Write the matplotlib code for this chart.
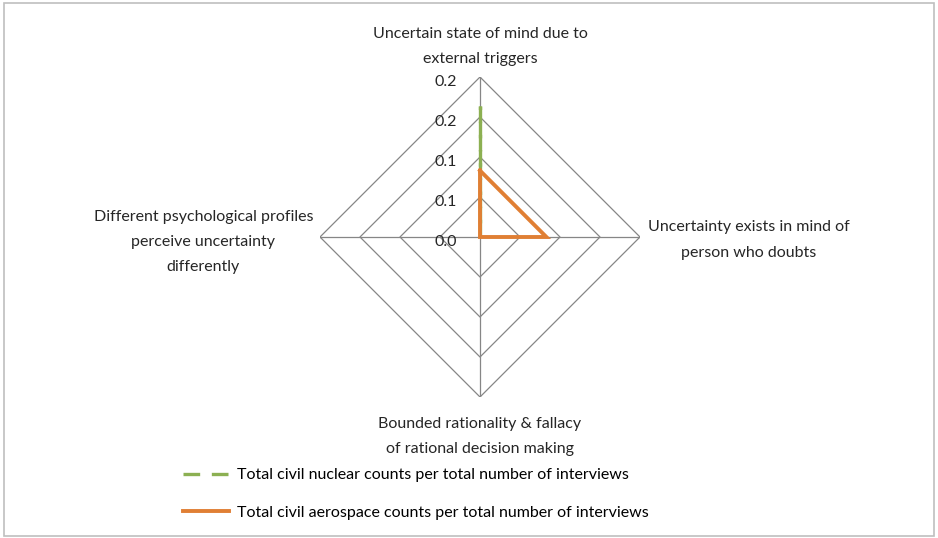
import numpy as np
import matplotlib.pyplot as plt
from matplotlib.patches import Rectangle

plt.rcParams['font.family'] = ['Lato', 'DejaVu Sans']

# data
categories = [
    'Uncertain state of mind due to\nexternal triggers',
    'Uncertainty exists in mind of\nperson who doubts',
    'Bounded rationality & fallacy\nof rational decision making',
    'Different psychological profiles\nperceive uncertainty\ndifferently',
]
nuclear = [0.164, 0.0, 0.0, 0.0]
aerospace = [0.083, 0.083, 0.0, 0.0]
ring_levels = [0.0, 0.05, 0.10, 0.15, 0.20]
ring_labels = ['0.0', '0.1', '0.1', '0.2', '0.2']
series_names = ['Total civil nuclear counts per total number of interviews',
                'Total civil aerospace counts per total number of interviews']

GRID = '#868686'
GREEN = '#8CB052'
ORANGE = '#E07F34'
TXT = '#262626'
FS = 11.5
LS = 2.0

fig = plt.figure(figsize=(9.38, 5.38), dpi=100)
fig.patches.append(Rectangle((0.004, 0.004), 0.992, 0.99, transform=fig.transFigure,
                             fill=False, edgecolor='#BFBFBF', linewidth=1.2))

W, H = 938, 538
cx, cy, R = 480, 237, 160
ax = fig.add_axes([(cx - R) / W, (H - cy - R) / H, 2 * R / W, 2 * R / H], projection='polar')
ax.set_theta_offset(np.pi / 2)
ax.set_theta_direction(-1)
ax.set_ylim(0, 0.2)
ax.axis('off')

n = len(categories)
angles = np.arange(n) * 2 * np.pi / n
closed = np.append(angles, angles[0])

# polygon rings
for lvl in ring_levels[1:]:
    ax.plot(closed, [lvl] * (n + 1), color=GRID, lw=0.9, zorder=1)
# spokes
for a in angles:
    ax.plot([a, a], [0, ring_levels[-1]], color=GRID, lw=0.9, zorder=1)

# dashed series drawn edge by edge; the closing edge gets a shifted dash phase
# so the overlapping up/down strokes fill each other's gaps (as in the original)
nuc = nuclear + nuclear[:1]
handles = []
for i in range(n):
    phase = 4.25 if i == n - 1 else 0
    l, = ax.plot(closed[i:i + 2], nuc[i:i + 2], color=GREEN, lw=2.4,
                 linestyle=(phase, (5, 3.5)), zorder=3)
    if i == 0:
        l.set_label(series_names[0])
        handles.append(l)
l2, = ax.plot(closed, aerospace + aerospace[:1], color=ORANGE, lw=2.8,
              zorder=4, label=series_names[1], solid_joinstyle='miter')
handles.append(l2)

# radial tick labels
for lvl, lab in zip(ring_levels, ring_labels):
    ax.annotate(lab, xy=(0, lvl), xytext=(-23, -5), textcoords='offset pixels',
                ha='right', va='center', fontsize=FS, color=TXT, annotation_clip=False)

# category labels
offsets = [((0, 11), 'center', 'bottom'), ((8, -3), 'left', 'center'),
           ((0, -20), 'center', 'top'), ((-7, -5), 'right', 'center')]
for a, lab, (off, ha, va) in zip(angles, categories, offsets):
    ax.annotate(lab, xy=(a, ring_levels[-1]), xytext=off, textcoords='offset pixels',
                ha=ha, va=va, multialignment='center', fontsize=FS, color=TXT,
                linespacing=LS, annotation_clip=False)

fig.legend(handles=handles, loc='upper left', bbox_to_anchor=(183 / W, 1 - 468 / H),
           frameon=False, fontsize=FS, handlelength=2.9, handletextpad=0.45,
           labelspacing=1.45, borderpad=0, borderaxespad=0)

fig.savefig('out.png', dpi=100)
